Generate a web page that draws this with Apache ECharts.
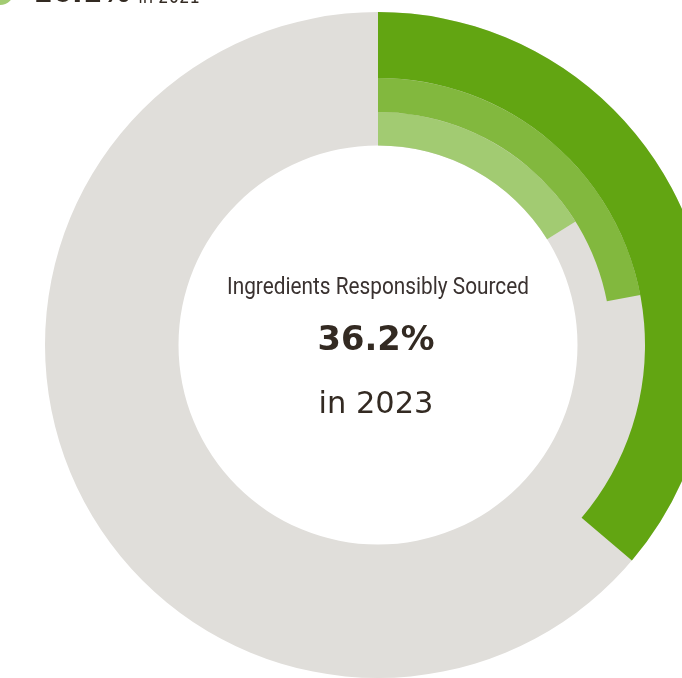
<!DOCTYPE html>
<html>
<head>
<meta charset="utf-8">
<script src="https://cdn.jsdelivr.net/npm/echarts@6/dist/echarts.min.js"></script>
<style>html,body{margin:0;padding:0;background:#fff}#c{width:682px;height:678px}</style>
</head>
<body>
<div id="c"></div>
<script>
const years = ['2021', '2022', '2023'];
const values = [16.1, 22.0, 36.2];
const colors = ['#a2cb72', '#82b83e', '#62a512'];
const title = 'Ingredients Responsibly Sourced';
const headline = '36.2%';
const headlineYear = 'in 2023';

const chart = echarts.init(document.getElementById('c'));
const center = [378, 345];
const radii = [[199.5, 233], [233, 267], [267, 333]];

function measure(text, font) {
  const ctx = document.createElement('canvas').getContext('2d');
  ctx.font = font;
  return ctx.measureText(text).width;
}
const titleFont = '24px Roboto';
const titleScale = 302 / measure(title, titleFont);
const headFont = 'bold 33px "DejaVu Sans"';
const headScale = 117 / measure(headline, headFont);
const yearFont = '31px "DejaVu Sans"';
const yearScale = 115 / measure(headlineYear, yearFont);

const legNumFont = 'bold 28px "DejaVu Sans"';
const legNumText = values[0].toFixed(1) + '%';
const legNumW = measure(legNumText, legNumFont);
const legYearFont = '20px "DejaVu Sans"';

const series = [{
  type: 'pie', center, radius: [199.5, 333], silent: true, animation: false,
  label: {show: false}, labelLine: {show: false},
  itemStyle: {color: '#e0deda'},
  data: [{value: 1, name: 'bg'}]
}];
years.forEach((y, i) => {
  series.push({
    type: 'pie', center, radius: radii[i], startAngle: 90, clockwise: true,
    silent: true, animation: false,
    label: {show: false}, labelLine: {show: false},
    data: [
      {value: values[i], name: y, itemStyle: {color: colors[i]}},
      {value: 100 - values[i], name: 'rest', itemStyle: {color: 'rgba(0,0,0,0)'}}
    ]
  });
});

chart.setOption({
  animation: false,
  series,
  graphic: [
    {type: 'circle', shape: {cx: 0, cy: -9, r: 14}, style: {fill: colors[0]}},
    {type: 'text', x: 33, y: -5, style: {text: legNumText, font: legNumFont, fill: '#332a22', align: 'left', verticalAlign: 'middle'}},
    {type: 'text', x: 33 + legNumW + 8, y: -2, scaleX: 0.82, style: {text: 'in ' + years[0], font: legYearFont, fill: '#332a22', align: 'left', verticalAlign: 'middle'}},
    {type: 'text', x: 378, y: 288, scaleX: titleScale, style: {text: title, font: titleFont, fill: '#3a3230', align: 'center', verticalAlign: 'middle'}},
    {type: 'text', x: 376, y: 341, scaleX: headScale, style: {text: headline, font: headFont, fill: '#332a22', align: 'center', verticalAlign: 'middle'}},
    {type: 'text', x: 376, y: 405, scaleX: yearScale, style: {text: headlineYear, font: yearFont, fill: '#332a22', align: 'center', verticalAlign: 'middle'}}
  ]
});
</script>
</body>
</html>
